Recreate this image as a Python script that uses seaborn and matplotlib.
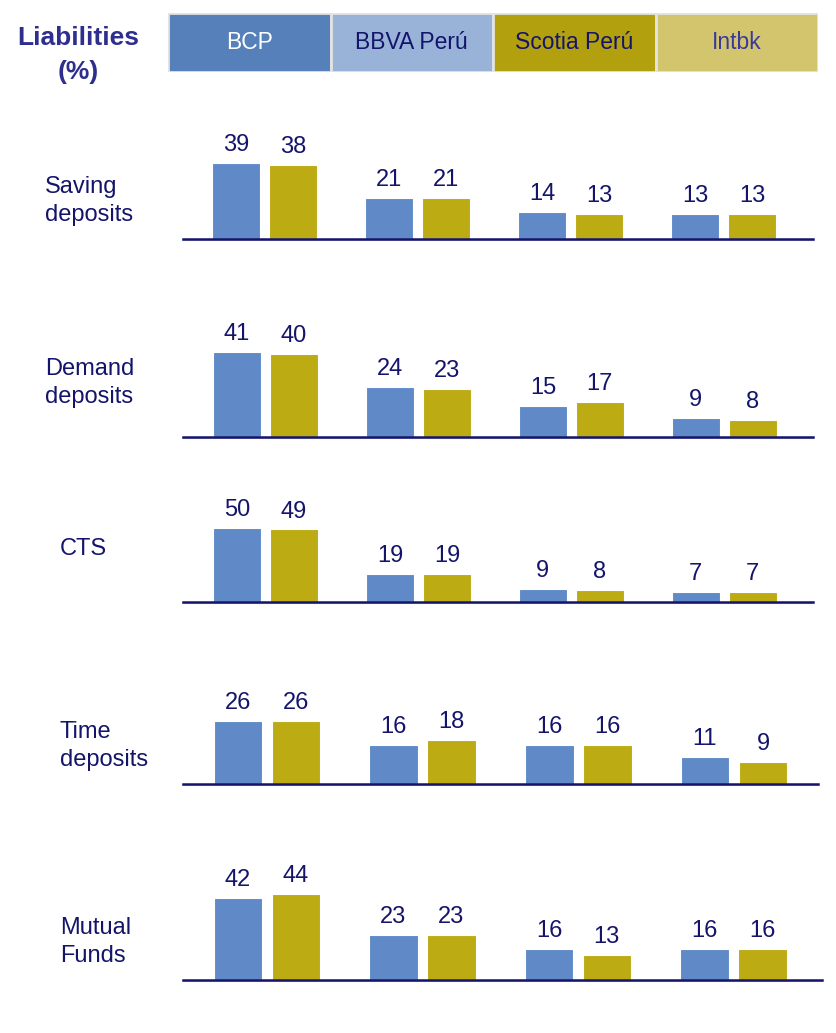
import matplotlib
matplotlib.use("Agg")
import matplotlib.pyplot as plt
import seaborn as sns
import pandas as pd

sns.set_theme(style="white")
plt.rcParams['font.family'] = ['Liberation Sans', 'DejaVu Sans']

banks = ["BCP", "BBVA Perú", "Scotia Perú", "Intbk"]
periods = ["Period 1", "Period 2"]
rows = ["Saving\ndeposits", "Demand\ndeposits", "CTS", "Time\ndeposits", "Mutual\nFunds"]
saving_p1 = [39, 21, 14, 13]
saving_p2 = [38, 21, 13, 13]
demand_p1 = [41, 24, 15, 9]
demand_p2 = [40, 23, 17, 8]
cts_p1 = [50, 19, 9, 7]
cts_p2 = [49, 19, 8, 7]
time_p1 = [26, 16, 16, 11]
time_p2 = [26, 18, 16, 9]
mutual_p1 = [42, 23, 16, 16]
mutual_p2 = [44, 23, 13, 16]
series = [(saving_p1, saving_p2), (demand_p1, demand_p2), (cts_p1, cts_p2),
          (time_p1, time_p2), (mutual_p1, mutual_p2)]

W, H = 836, 1033
NAVY = "#14146B"
BLUE = "#5F8AC7"
OLIVE = "#BCAB12"
header_colors = ["#5580BA", "#98B2D8", "#B3A00F", "#D2C56E"]
header_text_colors = ["white", "#14146B", "#14146B", "#3A3A9A"]

fig = plt.figure(figsize=(W / 100, H / 100), dpi=100)

def px_axes(x0, y0, x1, y1):
    return fig.add_axes([x0 / W, 1 - y1 / H, (x1 - x0) / W, (y1 - y0) / H])

# Header
hax = px_axes(168, 13, 818, 72)
hax.bar(range(len(banks)), [1] * len(banks), width=1.0, color=header_colors,
        edgecolor="#E3E3E3", linewidth=2)
for i, b in enumerate(banks):
    hax.text(i, 0.5, b, ha="center", va="center", fontsize=16.5,
             color=header_text_colors[i])
hax.set_xlim(-0.5, len(banks) - 0.5)
hax.set_ylim(0, 1)
hax.axis("off")

fig.text(78 / W, 1 - 38 / H, "Liabilities", ha="center", va="center",
         fontsize=19, fontweight="bold", color="#2E2E8F")
fig.text(78 / W, 1 - 72 / H, "(%)", ha="center", va="center",
         fontsize=19, fontweight="bold", color="#2E2E8F")

# Row layout: baseline y, px per unit, x-range, xlim, label pos
layouts = [
    dict(base=239, scale=1.95, x0=183, x1=813, xl=(-0.533, 3.585), lab=(45, 201)),
    dict(base=437, scale=2.07, x0=183, x1=813, xl=(-0.54, 3.58), lab=(45, 383)),
    dict(base=602, scale=1.48, x0=183, x1=813, xl=(-0.54, 3.58), lab=(60, 549)),
    dict(base=784, scale=2.42, x0=183, x1=818, xl=(-0.54, 3.54), lab=(60, 746)),
    dict(base=980, scale=1.95, x0=183, x1=822, xl=(-0.54, 3.57), lab=(60, 942)),
]

for (p1, p2), name, lay in zip(series, rows, layouts):
    hpx = 130
    ax = px_axes(lay["x0"], lay["base"] - hpx, lay["x1"], lay["base"])
    df = pd.DataFrame({
        "bank": banks * 2,
        "period": [periods[0]] * 4 + [periods[1]] * 4,
        "value": p1 + p2,
    })
    sns.barplot(data=df, x="bank", y="value", hue="period", order=banks,
                hue_order=periods, palette=[BLUE, OLIVE], width=0.745, gap=0.16,
                legend=False, ax=ax, saturation=1, edgecolor="white", linewidth=0.8)
    for cont in ax.containers:
        ax.bar_label(cont, padding=5, fontsize=17, color=NAVY)
    ax.set_ylim(0, hpx / lay["scale"])
    ax.set_xlim(*lay["xl"])
    ax.set_xlabel("")
    ax.set_ylabel("")
    ax.set_xticks([])
    ax.set_yticks([])
    for s in ["top", "left", "right"]:
        ax.spines[s].set_visible(False)
    ax.spines["bottom"].set_color(NAVY)
    ax.spines["bottom"].set_linewidth(1.8)
    ax.patch.set_alpha(0)
    ax.axhline(-0.9 / lay["scale"], color="#C8CCE6", linewidth=1.5, clip_on=False)
    fig.text(lay["lab"][0] / W, 1 - lay["lab"][1] / H, name, ha="left",
             va="center", fontsize=17, color=NAVY, linespacing=1.35)

fig.savefig("out.png", dpi=100)
